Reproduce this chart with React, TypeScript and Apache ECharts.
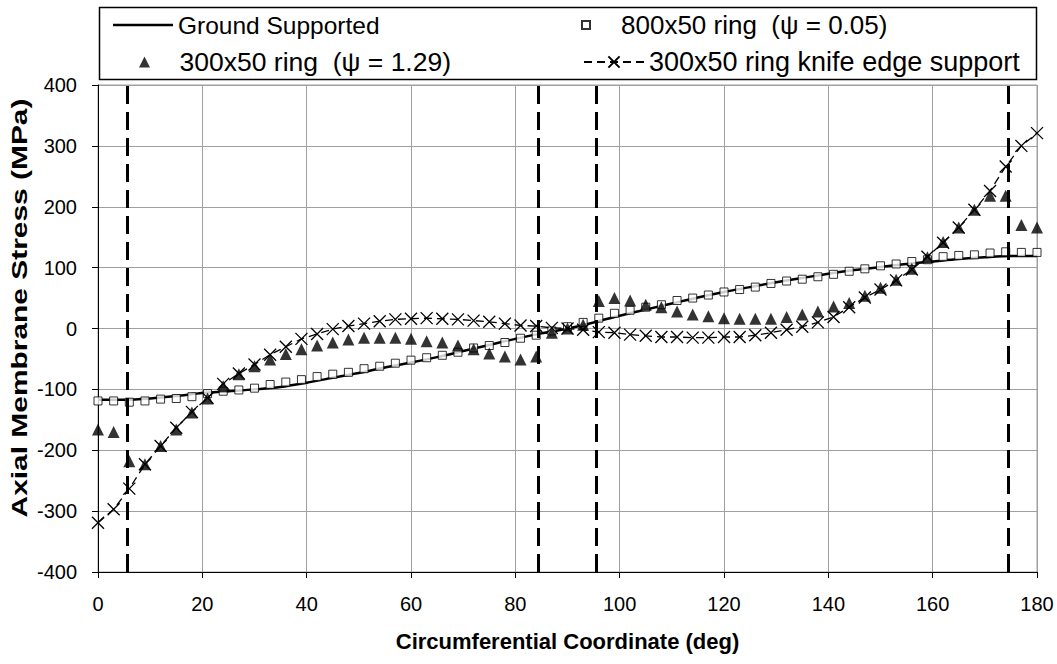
import React, { useEffect, useRef } from "react";
import * as echarts from "echarts";

// Circumferential coordinate (deg) of the marker series
const markerAngles = [
  0, 3, 6, 9, 12, 15, 18, 21, 24, 27, 30, 33, 36, 39, 42, 45, 48, 51, 54, 57,
  60, 63, 66, 69, 72, 75, 78, 81, 84, 87, 90, 93, 96, 99, 102, 105, 108, 111,
  114, 117, 120, 123, 126, 129, 132, 135, 138, 141, 144, 147, 150, 153, 156,
  159, 162, 165, 168, 171, 174, 177, 180,
];

// 800x50 ring (psi = 0.05)
const ring800 = [
  -119, -119, -121, -119, -116, -115, -112, -107, -103, -101, -98, -92, -88,
  -84, -79, -75, -72, -66, -62, -57, -52, -48, -44, -39, -32, -28, -23, -16,
  -11, -4, 3, 10, 17, 25, 30, 35, 39, 46, 50, 55, 60, 64, 68, 74, 78, 81, 85,
  89, 94, 98, 103, 106, 110, 113, 118, 120, 121, 124, 126, 125, 125,
];

// 300x50 ring (psi = 1.29)
const ring300 = [
  -166, -170, -218, -223, -193, -166, -138, -115, -95, -75, -62, -51, -42,
  -34, -28, -23, -18, -15, -15, -15, -17, -21, -23, -28, -34, -41, -46, -51,
  -46, -7, 0, 6, 45, 50, 46, 39, 35, 28, 23, 20, 17, 16, 16, 16, 19, 23, 28,
  36, 42, 54, 67, 80, 98, 117, 142, 166, 195, 218, 218, 170, 166,
];

// 300x50 ring knife edge support
const knifeEdge = [
  -319, -297, -263, -223, -193, -163, -137, -114, -91, -74, -59, -43, -30,
  -17, -9, -1, 4, 8, 12, 15, 16, 17, 16, 15, 13, 11, 8, 5, 4, 1, 0, -2, -6,
  -7, -10, -12, -14, -14, -15, -15, -14, -14, -11, -7, -2, 3, 10, 19, 35, 51,
  64, 79, 97, 118, 141, 166, 195, 226, 266, 300, 321,
];

// Ground supported (solid curve)
const groundAngles = [
  0, 5, 10, 15, 20, 25, 30, 35, 40, 45, 50, 55, 60, 65, 70, 75, 80, 85, 90,
  95, 100, 105, 110, 115, 120, 125, 130, 135, 140, 145, 150, 155, 160, 165,
  170, 175, 180,
];
const groundSupported = [
  -117, -117, -115, -111, -106, -103, -100, -96, -89, -81, -73, -64, -56, -47,
  -37, -27, -17, -8, 0, 10, 21, 31, 41, 51, 60, 68, 76, 83, 90, 96, 101, 106,
  110, 114, 117, 119, 119,
];

// Ring / support positions (deg), drawn as heavy dashed verticals
const supportLines = [5.6, 84.4, 95.6, 174.4];

const seriesNames = [
  "Ground Supported",
  "800x50 ring\u00a0 (\u03c8 = 0.05)",
  "300x50 ring\u00a0 (\u03c8 = 1.29)",
  "300x50 ring knife edge support",
];

const xTitle = "Circumferential Coordinate (deg)";
const yTitle = "Axial Membrane Stress (MPa)";

const FONT = "'Liberation Sans', Arial, Helvetica, sans-serif";
const CROSS = "path://M0,0L10,10M10,0L0,10";
const TRI = "path://M5,0L10,10L0,10Z";
const SQR = "path://M0,0L10,0L10,10L0,10Z";

export default function App() {
  const ref = useRef<HTMLDivElement>(null);

  useEffect(() => {
    if (!ref.current) return;
    const chart = echarts.init(ref.current, undefined, { renderer: "svg" });

    const pair = (xs: number[], ys: number[]) => xs.map((x, i) => [x, ys[i]]);

    const legendText = (size: number) => ({
      fontSize: size,
      fontFamily: FONT,
      color: "#000",
      lineHeight: 30,
    });

    chart.setOption({
      animation: false,
      backgroundColor: "#fff",
      grid: {
        left: 98,
        top: 85,
        right: 20,
        bottom: 92,
        show: true,
        borderColor: "#a0a0a0",
        borderWidth: 1,
      },
      xAxis: {
        type: "value",
        min: 0,
        max: 180,
        interval: 20,
        name: xTitle,
        nameLocation: "middle",
        nameGap: 58,
        nameTextStyle: { fontSize: 22, fontWeight: "bold", fontFamily: FONT, color: "#000" },
        axisLine: { show: true, onZero: false, lineStyle: { color: "#000", width: 1 } },
        axisTick: { show: true, length: 6, inside: false, lineStyle: { color: "#000" } },
        axisLabel: { fontSize: 20, fontFamily: FONT, color: "#000", margin: 22 },
        splitLine: { show: true, lineStyle: { color: "#a0a0a0", width: 1 } },
      },
      yAxis: {
        type: "value",
        min: -400,
        max: 400,
        interval: 100,
        axisLine: { show: true, onZero: false, lineStyle: { color: "#000", width: 1 } },
        axisTick: { show: true, length: 6, inside: false, lineStyle: { color: "#000" } },
        axisLabel: { fontSize: 20, fontFamily: FONT, color: "#000", margin: 21 },
        splitLine: { show: true, lineStyle: { color: "#a0a0a0", width: 1 } },
      },
      legend: [
        {
          data: [{ name: seriesNames[0], icon: "rect" }],
          left: 113,
          top: 10,
          padding: 0,
          itemWidth: 60,
          itemHeight: 2.5,
          textStyle: legendText(24.5),
        },
        {
          data: [{ name: seriesNames[2], icon: TRI }],
          left: 139,
          top: 47,
          padding: 0,
          itemWidth: 60,
          itemHeight: 11,
          textStyle: legendText(26.5),
        },
        {
          data: [{ name: seriesNames[1], icon: SQR }],
          left: 581,
          top: 10,
          padding: 0,
          itemWidth: 60,
          itemHeight: 8,
          textStyle: legendText(26),
        },
        {
          data: [seriesNames[3]],
          left: 583,
          top: 47,
          padding: 0,
          itemWidth: 60,
          itemHeight: 14,
          textStyle: legendText(27),
        },
      ],
      graphic: [
        {
          type: "rect",
          left: 97,
          top: 5,
          shape: { width: 937, height: 72 },
          style: { fill: "none", stroke: "#000", lineWidth: 1.5 },
          z: 10,
        },
        {
          type: "text",
          x: 19,
          y: 308,
          rotation: Math.PI / 2,
          scaleX: 1.36,
          style: {
            text: yTitle,
            font: `bold 22px ${FONT}`,
            fill: "#000",
            textAlign: "center",
            textVerticalAlign: "middle",
          },
        },
      ],
      series: [
        {
          name: seriesNames[0],
          type: "line",
          data: pair(groundAngles, groundSupported),
          symbol: "none",
          smooth: 0.3,
          lineStyle: { color: "#000", width: 2.5 },
          itemStyle: { color: "#000" },
          z: 2,
          markLine: {
            silent: true,
            symbol: "none",
            label: { show: false },
            lineStyle: { color: "#000", width: 3, type: [18, 8] },
            data: supportLines.map((x) => ({ xAxis: x })),
          },
        },
        {
          name: seriesNames[1],
          type: "scatter",
          data: pair(markerAngles, ring800),
          symbol: "rect",
          symbolSize: 8,
          itemStyle: { color: "#fff", borderColor: "#000", borderWidth: 1 },
          z: 3,
        },
        {
          name: seriesNames[2],
          type: "scatter",
          data: pair(markerAngles, ring300),
          symbol: "triangle",
          symbolSize: 12,
          itemStyle: { color: "#000" },
          z: 4,
        },
        {
          name: seriesNames[3],
          type: "line",
          data: pair(markerAngles, knifeEdge),
          symbol: CROSS,
          symbolSize: 12,
          showAllSymbol: true,
          lineStyle: { color: "#000", width: 1.3, type: [8, 5] },
          itemStyle: { color: "#000", borderColor: "#000", borderWidth: 1.3 },
          z: 5,
        },
      ],
    });

    return () => chart.dispose();
  }, []);

  return (
    <div
      ref={ref}
      style={{ position: "fixed", left: 0, top: 0, width: 1057, height: 664, background: "#fff" }}
    />
  );
}
